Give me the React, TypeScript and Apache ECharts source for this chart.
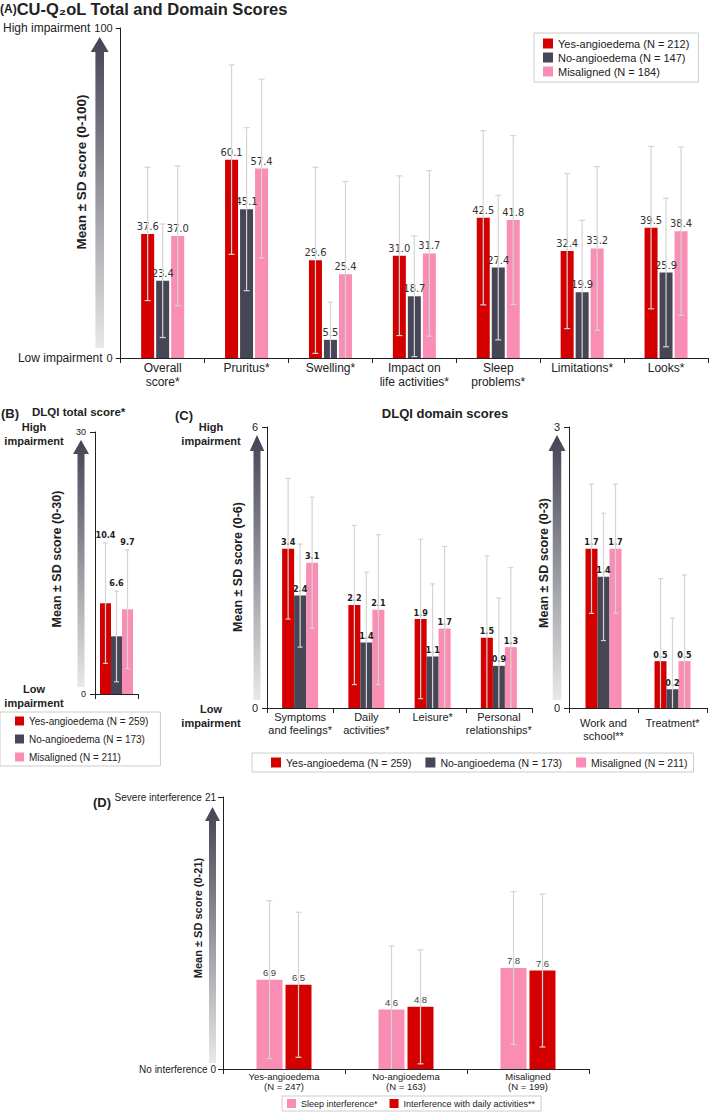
import React, { useEffect, useRef } from "react";
import * as echarts from "echarts";

// ---------- DATA ----------
const catsA = ["Overall\nscore*", "Pruritus*", "Swelling*", "Impact on\nlife activities*", "Sleep\nproblems*", "Limitations*", "Looks*"];
const yesA = [37.6, 60.1, 29.6, 31.0, 42.5, 32.4, 39.5];
const noA = [23.4, 45.1, 5.5, 18.7, 27.4, 19.9, 25.9];
const misA = [37.0, 57.4, 25.4, 31.7, 41.8, 33.2, 38.4];
const yesAsd = [20.2, 28.7, 28.2, 24.2, 26.4, 23.5, 24.6];
const noAsd = [17.2, 24.7, 11.4, 18.3, 21.9, 21.8, 22.5];
const misAsd = [21.2, 27.1, 28.1, 25.1, 25.6, 24.8, 25.5];
const namesA = ["Yes-angioedema (N = 212)", "No-angioedema (N = 147)", "Misaligned (N = 184)"];

const catsB = [""];
const yesB = [10.4];
const noB = [6.6];
const misB = [9.7];
const yesBsd = [6.9];
const noBsd = [5.2];
const misBsd = [6.8];
const namesBC = ["Yes-angioedema (N = 259)", "No-angioedema (N = 173)", "Misaligned (N = 211)"];

const catsC1 = ["Symptoms\nand feelings*", "Daily\nactivities*", "Leisure*", "Personal\nrelationships*"];
const yesC1 = [3.4, 2.2, 1.9, 1.5];
const noC1 = [2.4, 1.4, 1.1, 0.9];
const misC1 = [3.1, 2.1, 1.7, 1.3];
const yesC1sd = [1.5, 1.7, 1.7, 1.75];
const noC1sd = [1.1, 1.5, 1.55, 1.45];
const misC1sd = [1.4, 1.6, 1.75, 1.7];

const catsC2 = ["Work and\nschool**", "Treatment*"];
const yesC2 = [1.7, 0.5];
const noC2 = [1.4, 0.2];
const misC2 = [1.7, 0.5];
const yesC2sd = [0.69, 0.88];
const noC2sd = [0.68, 0.76];
const misC2sd = [0.69, 0.92];

const catsD = ["Yes-angioedema\n(N = 247)", "No-angioedema\n(N = 163)", "Misaligned\n(N = 199)"];
const sleepD = [6.9, 4.6, 7.8];
const dailyD = [6.5, 4.8, 7.6];
const sleepDsd = [6.1, 4.9, 5.9];
const dailyDsd = [5.6, 4.4, 5.9];
const namesD = ["Sleep interference*", "Interference with daily activities**"];

// ---------- STYLE ----------
const FONT = "'Liberation Sans', Arial, Helvetica, sans-serif";
const NARROW = "'Liberation Sans Narrow', 'Arial Narrow', 'DejaVu Sans Condensed', sans-serif";
const RED = "#d40000";
const DARK = "#464656";
const PINK = "#f98db3";
const ERR = "#d4d4d4";
const INK = "#222222";

function bars(name: string, xi: number, color: string, data: number[], bw: number, gap: number, label: any) {
  return {
    type: "bar",
    name,
    xAxisIndex: xi,
    yAxisIndex: xi,
    data,
    barWidth: bw,
    barGap: (gap / bw) * 100 + "%",
    itemStyle: { color },
    label: label
      ? { show: true, position: "top", formatter: (p: any) => Number(p.value).toFixed(1), ...label }
      : { show: false },
    z: 2,
  };
}

function errs(key: string, xi: number, means: number[], sds: number[], idx: number, n: number, bw: number, gap: number, cap: number, topLabel?: any) {
  return {
    type: "custom",
    name: key,
    xAxisIndex: xi,
    yAxisIndex: xi,
    z: 5,
    silent: true,
    data: means.map((m, i) => [i, m, sds[i]]),
    encode: { x: 0, y: 1 },
    renderItem: (params: any, api: any) => {
      const i = api.value(0);
      const m = api.value(1);
      const s = api.value(2);
      const hi = m + s;
      const lo = Math.max(0, m - s);
      const cHi = api.coord([i, hi]);
      const cLo = api.coord([i, lo]);
      const total = n * bw + (n - 1) * gap;
      const x = cHi[0] - total / 2 + bw / 2 + idx * (bw + gap);
      const st = { stroke: ERR, lineWidth: 1.2 };
      const children: any[] = [
        { type: "line", shape: { x1: x, y1: cHi[1], x2: x, y2: cLo[1] }, style: st },
        { type: "line", shape: { x1: x - cap / 2, y1: cHi[1], x2: x + cap / 2, y2: cHi[1] }, style: st },
      ];
      if (m - s > 0) {
        children.push({ type: "line", shape: { x1: x - cap / 2, y1: cLo[1], x2: x + cap / 2, y2: cLo[1] }, style: st });
      }
      if (topLabel) {
        children.push({
          type: "text",
          style: {
            text: m.toFixed(1),
            x,
            y: cHi[1] - 3,
            align: "center",
            verticalAlign: "bottom",
            fill: INK,
            ...topLabel,
          },
        });
      }
      return { type: "group", children };
    },
  };
}

function yAxis(gi: number, max: number, fontSize: number, margin: number, formatter?: any, rich?: any) {
  return {
    type: "value",
    gridIndex: gi,
    min: 0,
    max,
    interval: max,
    axisLine: { show: true, lineStyle: { color: INK, width: 1 } },
    axisTick: { show: true, length: 5, lineStyle: { color: INK } },
    splitLine: { show: false },
    axisLabel: { fontSize, color: INK, margin, fontFamily: FONT, formatter, rich },
  };
}

function xAxis(gi: number, data: string[], fontSize: number, lineHeight: number, margin: number) {
  return {
    type: "category",
    gridIndex: gi,
    data,
    axisLine: { show: true, lineStyle: { color: INK, width: 1 } },
    axisTick: { show: true, length: 5, alignWithLabel: false, lineStyle: { color: INK } },
    axisLabel: { interval: 0, fontSize, lineHeight, color: INK, margin, fontFamily: FONT },
  };
}

function arrow(cx: number, tip: number, headB: number, bodyB: number, headW: number, bodyW: number) {
  return {
    type: "polygon",
    silent: true,
    shape: {
      points: [
        [cx, tip],
        [cx + headW / 2, headB],
        [cx + bodyW / 2, headB],
        [cx + bodyW / 2, bodyB],
        [cx - bodyW / 2, bodyB],
        [cx - bodyW / 2, headB],
        [cx - headW / 2, headB],
      ],
    },
    style: {
      fill: {
        type: "linear",
        x: 0,
        y: 0,
        x2: 0,
        y2: 1,
        colorStops: [
          { offset: 0, color: "#434354" },
          { offset: 1, color: "#e8e8e8" },
        ],
      },
    },
  };
}

function vtext(text: string, x: number, y: number, fontSize: number) {
  return {
    type: "text",
    x,
    y,
    rotation: Math.PI / 2,
    silent: true,
    style: { text, align: "center", verticalAlign: "middle", fontSize, fontWeight: "bold", fontFamily: FONT, fill: INK },
  };
}

function htext(text: string, x: number, y: number, fontSize: number, bold: boolean, align = "left", lineHeight?: number) {
  return {
    type: "text",
    x,
    y,
    silent: true,
    style: {
      text,
      align,
      verticalAlign: "middle",
      fontSize,
      fontWeight: bold ? "bold" : "normal",
      fontFamily: FONT,
      fill: INK,
      lineHeight,
    },
  };
}

export default function App() {
  const ref = useRef<HTMLDivElement>(null);
  useEffect(() => {
    if (!ref.current) return;
    const chart = echarts.init(ref.current, null, { renderer: "svg" });

    const labA = { fontSize: 11, fontFamily: NARROW, color: "#333", distance: 2 };
    const labC = { fontSize: 9, fontWeight: "bold", fontFamily: NARROW, color: INK, distance: 2 };
    const labD = { fontSize: 9.5, fontFamily: FONT, color: "#444", distance: 2 };
    const labB = { fontSize: 9, fontWeight: "bold", fontFamily: NARROW };

    const option: any = {
      animation: false,
      backgroundColor: "#ffffff",
      textStyle: { fontFamily: FONT },
      grid: [
        { left: 113, top: 28, width: 595, height: 330 },
        { left: 95, top: 432, width: 43, height: 262 },
        { left: 267, top: 427, width: 265, height: 281 },
        { left: 569, top: 427, width: 138, height: 281 },
        { left: 223, top: 797, width: 366, height: 272 },
      ],
      xAxis: [
        xAxis(0, catsA, 12, 14, 3),
        xAxis(1, catsB, 10, 12, 3),
        xAxis(2, catsC1, 11, 12.5, 3),
        xAxis(3, catsC2, 11, 12.5, 9),
        xAxis(4, catsD, 9.5, 10.5, 2),
      ],
      yAxis: [
        yAxis(0, 100, 11, 8, (v: number) => (v === 0 ? "{t|Low impairment}0" : "{t|High impairment}100"), {
          t: { fontSize: 12, color: INK, padding: [0, 4, 0, 0], fontFamily: FONT },
        }),
        yAxis(1, 30, 9, 9),
        yAxis(2, 6, 11, 9),
        yAxis(3, 3, 11, 9),
        yAxis(4, 21, 10, 7, (v: number) => (v === 0 ? "{t|No interference}0" : "{t|Severe interference}21"), {
          t: { fontSize: 10, color: INK, padding: [0, 3, 0, 0], fontFamily: FONT },
        }),
      ],
      legend: [
        {
          data: namesA,
          orient: "vertical",
          left: 534,
          top: 33,
          padding: [5, 9, 5, 9],
          itemGap: 3,
          itemWidth: 10,
          itemHeight: 10,
          icon: "rect",
          selectedMode: false,
          borderColor: "#cccccc",
          borderWidth: 1,
          textStyle: { fontSize: 11, color: INK, fontFamily: FONT },
        },
        {
          data: namesBC,
          orient: "vertical",
          left: 0,
          top: 712,
          padding: [4, 12, 4, 15],
          itemGap: 8,
          itemWidth: 9,
          itemHeight: 9,
          icon: "rect",
          selectedMode: false,
          borderColor: "#cccccc",
          borderWidth: 1,
          textStyle: { fontSize: 10, color: INK, fontFamily: FONT },
        },
        {
          data: namesBC,
          orient: "horizontal",
          left: 252,
          top: 753,
          padding: [4, 6, 4, 19],
          itemGap: 14,
          itemWidth: 10,
          itemHeight: 10,
          icon: "rect",
          selectedMode: false,
          borderColor: "#cccccc",
          borderWidth: 1,
          textStyle: { fontSize: 10.5, color: INK, fontFamily: FONT },
        },
        {
          data: namesD,
          orient: "horizontal",
          left: 282,
          top: 1096,
          padding: [3, 6, 3, 5],
          itemGap: 12,
          itemWidth: 9,
          itemHeight: 9,
          icon: "rect",
          selectedMode: false,
          borderColor: "#cccccc",
          borderWidth: 1,
          textStyle: { fontSize: 9, color: INK, fontFamily: FONT },
        },
      ],
      series: [
        // Panel A
        bars(namesA[0], 0, RED, yesA, 13, 2, labA),
        bars(namesA[1], 0, DARK, noA, 13, 2, labA),
        bars(namesA[2], 0, PINK, misA, 13, 2, labA),
        errs("errA0", 0, yesA, yesAsd, 0, 3, 13, 2, 6),
        errs("errA1", 0, noA, noAsd, 1, 3, 13, 2, 6),
        errs("errA2", 0, misA, misAsd, 2, 3, 13, 2, 6),
        // Panel B
        bars(namesBC[0], 1, RED, yesB, 11, 0, null),
        bars(namesBC[1], 1, DARK, noB, 11, 0, null),
        bars(namesBC[2], 1, PINK, misB, 11, 0, null),
        errs("errB0", 1, yesB, yesBsd, 0, 3, 11, 0, 5, labB),
        errs("errB1", 1, noB, noBsd, 1, 3, 11, 0, 5, labB),
        errs("errB2", 1, misB, misBsd, 2, 3, 11, 0, 5, labB),
        // Panel C left
        bars(namesBC[0], 2, RED, yesC1, 12, 0, labC),
        bars(namesBC[1], 2, DARK, noC1, 12, 0, labC),
        bars(namesBC[2], 2, PINK, misC1, 12, 0, labC),
        errs("errC10", 2, yesC1, yesC1sd, 0, 3, 12, 0, 5),
        errs("errC11", 2, noC1, noC1sd, 1, 3, 12, 0, 5),
        errs("errC12", 2, misC1, misC1sd, 2, 3, 12, 0, 5),
        // Panel C right
        bars(namesBC[0], 3, RED, yesC2, 12, 0, labC),
        bars(namesBC[1], 3, DARK, noC2, 12, 0, labC),
        bars(namesBC[2], 3, PINK, misC2, 12, 0, labC),
        errs("errC20", 3, yesC2, yesC2sd, 0, 3, 12, 0, 5),
        errs("errC21", 3, noC2, noC2sd, 1, 3, 12, 0, 5),
        errs("errC22", 3, misC2, misC2sd, 2, 3, 12, 0, 5),
        // Panel D
        bars(namesD[0], 4, PINK, sleepD, 26, 3, labD),
        bars(namesD[1], 4, RED, dailyD, 26, 3, labD),
        errs("errD0", 4, sleepD, sleepDsd, 0, 2, 26, 3, 6),
        errs("errD1", 4, dailyD, dailyDsd, 1, 2, 26, 3, 6),
      ],
      graphic: [
        {
          type: "text",
          x: 0,
          y: 9,
          silent: true,
          style: {
            text: "{a|(A)}{b|CU-Q₂oL Total and Domain Scores}",
            verticalAlign: "middle",
            fill: INK,
            rich: {
              a: { fontSize: 12, fontWeight: "bold", fontFamily: FONT, fill: INK },
              b: { fontSize: 16.5, fontWeight: "bold", fontFamily: FONT, fill: INK },
            },
          },
        },
        arrow(99.7, 37, 52, 348, 18, 8.6),
        arrow(81, 440, 454, 687, 16, 7),
        arrow(257, 435, 451, 700, 14.5, 7),
        arrow(557, 435, 451, 700, 17, 8.5),
        arrow(212.5, 807, 821, 1063, 15, 7),
        vtext("Mean ± SD score (0-100)", 81, 172, 13.5),
        vtext("Mean ± SD score (0-30)", 57, 559, 12.5),
        vtext("Mean ± SD score (0-6)", 238, 567, 12.5),
        vtext("Mean ± SD score (0-3)", 544, 563, 12.5),
        vtext("Mean ± SD score (0-21)", 198, 918, 11),
        htext("(B)", 1, 413, 13, true),
        htext("DLQI total score*", 32, 412, 11.5, true),
        htext("High\nimpairment", 34, 434, 11, true, "center", 13.5),
        htext("Low\nimpairment", 34, 696, 11, true, "center", 13.5),
        htext("(C)", 175, 415, 13, true),
        htext("DLQI domain scores", 445, 413, 13, true, "center"),
        htext("High\nimpairment", 211, 434, 11, true, "center", 13.5),
        htext("Low\nimpairment", 211, 716, 11, true, "center", 14.5),
        htext("(D)", 93, 802, 13, true),
      ],
    };

    chart.setOption(option);
    return () => chart.dispose();
  }, []);

  return (
    <div
      ref={ref}
      style={{ position: "absolute", left: 0, top: 0, width: 709, height: 1113, background: "#fff" }}
    />
  );
}
